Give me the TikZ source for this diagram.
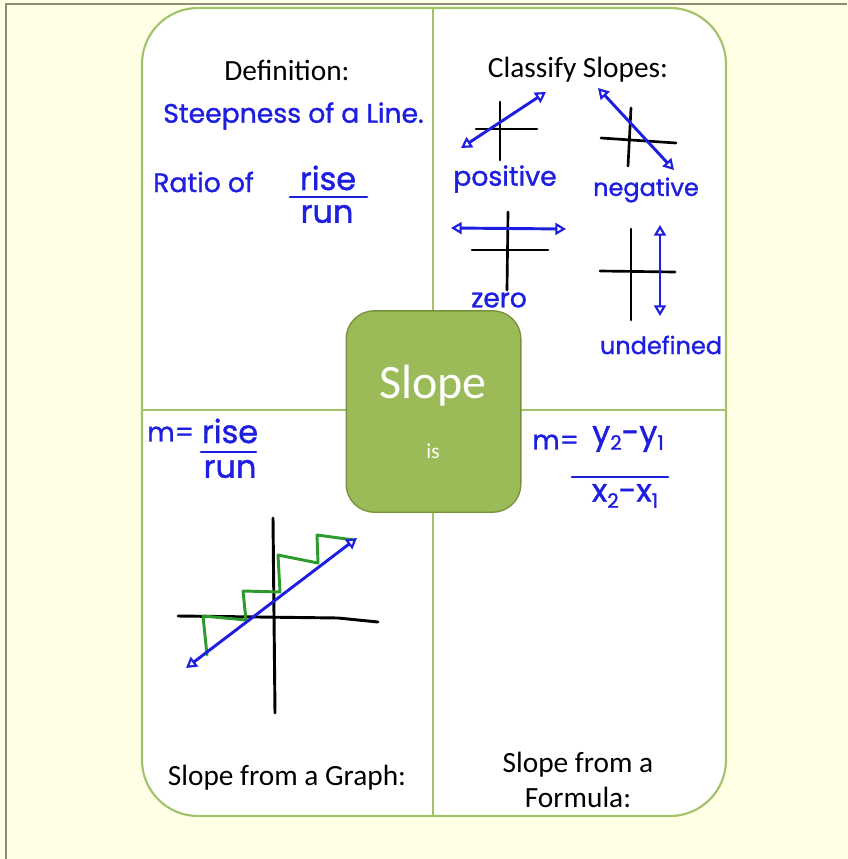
\documentclass[tikz,border=0pt]{standalone}
\usepackage{fontspec}
\setmainfont{Carlito}
\newfontfamily\hand[FakeBold=1.2]{Poppins}
\usetikzlibrary{arrows.meta}
\definecolor{cream}{HTML}{FFFFE6}
\definecolor{frame}{HTML}{8C8C78}
\definecolor{olive}{HTML}{9BBB59}
\definecolor{olivedark}{HTML}{76923C}
\definecolor{lightolive}{HTML}{A3C26A}
\definecolor{penblue}{HTML}{1E1EE0}
\definecolor{pengreen}{HTML}{2E9A2E}
\newcommand{\sbs}[1]{\raisebox{-0.35ex}{\fontsize{15}{15}\selectfont #1}}
\tikzset{
  lbl/.style={font=\fontsize{22}{26}\selectfont, text=black, inner sep=0pt, align=center},
  handtxt/.style={font=\hand\fontsize{20}{22}\selectfont, text=penblue, inner sep=0pt},
  smallhand/.style={handtxt, font=\hand\fontsize{18}{20}\selectfont},
  bighand/.style={handtxt, font=\hand\fontsize{24}{26}\selectfont},
  axis/.style={draw=black, line width=2pt, line cap=round},
  pen/.style={draw=penblue, line width=2.2pt, line cap=round},
  dbl/.style={pen, {Triangle[open,length=8pt,width=9pt,line width=1.6pt]}-{Triangle[open,length=8pt,width=9pt,line width=1.6pt]}},
  stair/.style={draw=pengreen, line width=2.2pt, line join=round, line cap=round},
  divider/.style={draw=lightolive, line width=1.3pt}
}
\begin{document}
\begin{tikzpicture}[x=0.75pt,y=-0.75pt]
\useasboundingbox (0,0) rectangle (847,859);
\fill[cream] (0,0) rectangle (847,859);
\draw[frame, line width=1.2pt] (6,859) -- (6,4) -- (847,4);
% outer frame
\draw[lightolive, line width=1.6pt, fill=white, rounded corners=42pt] (142,8) rectangle (726,816);
\draw[divider] (433,8) -- (433,816);
\draw[divider] (142,410) -- (726,410);
% center box
\node[draw=olivedark, fill=olive, line width=1pt, rounded corners=21pt, minimum width=131pt, minimum height=151pt, inner sep=0pt] (center) at (433.5,411.5) {};
\node[text=white, font=\fontsize{36}{40}\selectfont, inner sep=0pt] (slope) at (433,386) {Slope};
\node[text=white, font=\fontsize{16}{18}\selectfont, inner sep=0pt] (is) at (433,451) {is};
% quadrant titles
\node[lbl] (def) at (287,70) {Definition:};
\node[lbl] (cls) at (578,70) {Classify Slopes:};
\node[lbl] (graphlbl) at (287,778) {Slope from a Graph:};
\node[lbl] (formlbl) at (578,780) {Slope from a\\Formula:};
% definition handwriting
\node[handtxt, anchor=west] (steep) at (163,116) {Steepness of a Line.};
\node[handtxt, anchor=west] (ratio) at (153,182) {Ratio of};
\node[bighand] (rise1) at (328,178) {rise};
\node[bighand] (run1) at (327,214) {run};
\coordinate (b1a) at (290,197); \coordinate (b1b) at (367,197);
\draw[pen] (b1a) -- (b1b);
% classify: positive
\coordinate (p1) at (476,129); \coordinate (p2) at (537,129);
\coordinate (p3) at (500,102); \coordinate (p4) at (500,160);
\draw[axis] (p1) -- (p2); \draw[axis] (p3) -- (p4);
\coordinate (pa) at (461,148); \coordinate (pb) at (546,92);
\draw[dbl] (pa) -- (pb);
\node[handtxt] (pos) at (505,179) {positive};
% negative
\coordinate (n1) at (601,138); \coordinate (n2) at (676,143);
\coordinate (n3) at (631,108); \coordinate (n4) at (628,166);
\draw[axis] (n1) -- (n2); \draw[axis] (n3) -- (n4);
\coordinate (na) at (598,88); \coordinate (nb) at (674,170);
\draw[dbl] (na) -- (nb);
\node[smallhand] (neg) at (646,190) {negative};
% zero
\coordinate (z1) at (472,250); \coordinate (z2) at (548,250);
\coordinate (z3) at (508,212); \coordinate (z4) at (507,290);
\draw[axis] (z1) -- (z2); \draw[axis] (z3) -- (z4);
\coordinate (za) at (451,228); \coordinate (zb) at (566,229);
\draw[dbl] (za) -- (zb);
\node[handtxt] (zero) at (499,300) {zero};
% undefined
\coordinate (u1) at (600,271); \coordinate (u2) at (675,272);
\coordinate (u3) at (631,229); \coordinate (u4) at (631,320);
\draw[axis] (u1) -- (u2); \draw[axis] (u3) -- (u4);
\coordinate (ua) at (660,225); \coordinate (ub) at (660,316);
\draw[dbl] (ua) -- (ub);
\node[smallhand] (undef) at (661,345) {undefined};
% slope from graph
\node[handtxt, anchor=west] (m1) at (147,434) {m=};
\node[bighand] (rise2) at (230,431) {rise};
\node[bighand] (run2) at (230,469) {run};
\coordinate (b2a) at (201,452); \coordinate (b2b) at (256,452);
\draw[pen] (b2a) -- (b2b);
\coordinate (gx1) at (178,616); \coordinate (gx2) at (338,618); \coordinate (gx3) at (378,622);
\coordinate (gy1) at (273,518); \coordinate (gy2) at (275,713);
\draw[axis, line width=2.2pt] (gx1) -- (gx2) -- (gx3);
\draw[axis, line width=2.2pt] (gy1) -- (gy2);
\draw[stair] (207,655) -- (203,616) -- (246,620) -- (243,591) -- (280,592) -- (278,555) -- (318,563) -- (317,535) -- (354,540);
\coordinate (ga) at (186,668); \coordinate (gb) at (357,538);
\draw[dbl] (ga) -- (gb);
% slope from formula
\node[handtxt, anchor=west] (m2) at (532,442) {m=};
\node[bighand] (num) at (628,439) {y\sbs{2}-y\sbs{1}};
\node[bighand] (den) at (625,496) {x\sbs{2}-x\sbs{1}};
\coordinate (b3a) at (572,477); \coordinate (b3b) at (668,477);
\draw[pen] (b3a) -- (b3b);
\end{tikzpicture}
\end{document}
